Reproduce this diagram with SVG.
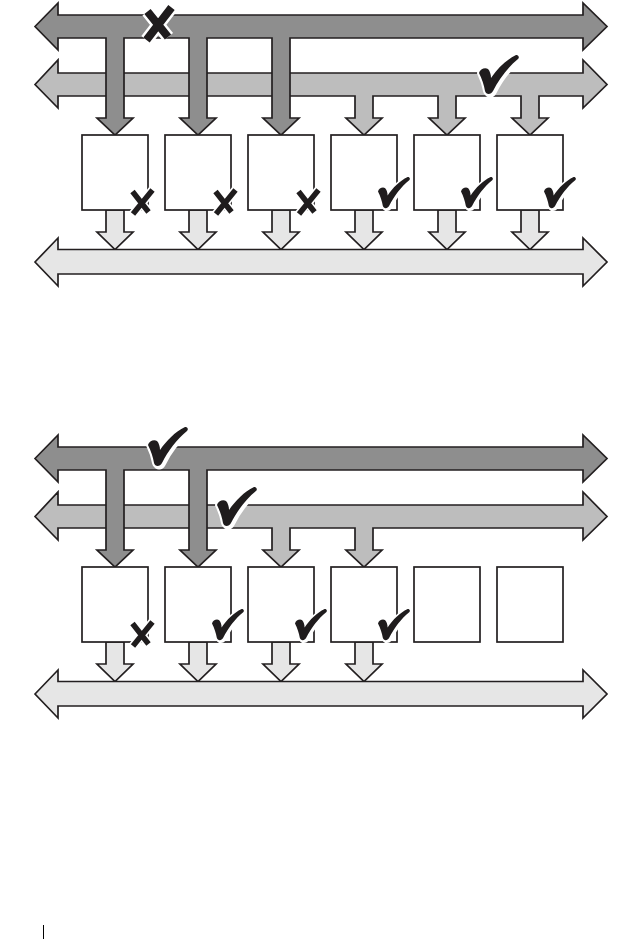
<svg xmlns="http://www.w3.org/2000/svg" xmlns:xlink="http://www.w3.org/1999/xlink" width="641" height="939" viewBox="0 0 641 939">
<style>
.ln{stroke:#231f20;stroke-width:1.7;stroke-linejoin:miter}
.dark{fill:#8e8e8e}
.mid{fill:#bdbdbd}
.light{fill:#e6e6e6}
.box{fill:#fff}
.halo{fill:#fff;stroke:#fff;stroke-width:4;stroke-linejoin:round}
.ink{fill:#1f1c1d}
.xh{stroke:#fff;fill:none;stroke-linecap:butt}
.xk{stroke:#1f1c1d;fill:none;stroke-linecap:butt}
</style>
<defs>
<path id="chk" d="M0,18 C1,14 6,12 9,14 C11,16 12,20 12,23 C19,13 27,5 37,0 C39,-0.5 41,2 39,4 C29,12 20,24 14,36 C12,40 7,40 6,36 C5,30 3,24 0,18 Z"/>
<g id="check"><use xlink:href="#chk" class="halo" transform="translate(1.5,1.5)"/><use xlink:href="#chk" class="halo"/><use xlink:href="#chk" class="ink"/></g>
<g id="xs">
<path class="xh" stroke-width="9" d="M-15.5,-18.5 L0.5,2 M4.5,-20 L-15,4"/>
<path class="xk" stroke-width="5.5" d="M-15.5,-18.5 L0.5,2 M4.5,-20 L-15,4"/>
</g>
<path id="down" d="M-9,0 L9,0 L9,22 L18,22 L0,39.5 L-18,22 L-9,22 Z"/>
</defs>

<!-- ===== Top diagram ===== -->
<g id="top-diagram">
<g id="connectors-top">
<path id="bus-mid-top" class="ln mid" d="M35,84.5 L58,60 L58,73 L583,73 L583,60 L607,84.5 L583,108 L583,96 L539,96 L539,118 L548,118 L530,135 L512,118 L521,118 L521,96 L456,96 L456,118 L465,118 L447,135 L429,118 L438,118 L438,96 L373,96 L373,118 L382,118 L364,135 L346,118 L355,118 L355,96 L58,96 L58,108 Z"/>
<path id="bus-dark-top" class="ln dark" d="M35,26.5 L58,3 L58,15 L583,15 L583,3 L607,26.5 L583,50 L583,38 L290,38 L290,118 L299,118 L281,135 L263,118 L272,118 L272,38 L207,38 L207,118 L216,118 L198,135 L180,118 L189,118 L189,38 L124,38 L124,118 L133,118 L115,135 L97,118 L106,118 L106,38 L58,38 L58,50 Z"/>
<g class="ln light">
<use xlink:href="#down" x="115" y="210"/>
<use xlink:href="#down" x="198" y="210"/>
<use xlink:href="#down" x="281" y="210"/>
<use xlink:href="#down" x="364" y="210"/>
<use xlink:href="#down" x="447" y="210"/>
<use xlink:href="#down" x="530" y="210"/>
</g>
<path id="bus-light-top" class="ln light" d="M35,262 L58,238 L58,249.5 L583,249.5 L583,238 L607,262 L583,286 L583,274 L58,274 L58,286 Z"/>
</g>
<g id="t-box1"><rect class="ln box" x="82" y="135" width="66" height="75"/><use xlink:href="#xs" transform="translate(148,210)"/></g>
<g id="t-box2"><rect class="ln box" x="165" y="135" width="66" height="75"/><use xlink:href="#xs" transform="translate(231,210)"/></g>
<g id="t-box3"><rect class="ln box" x="248" y="135" width="66" height="75"/><use xlink:href="#xs" transform="translate(314,210)"/></g>
<g id="t-box4"><rect class="ln box" x="331" y="135" width="66" height="75"/><use xlink:href="#check" transform="translate(378,177) scale(0.8)"/></g>
<g id="t-box5"><rect class="ln box" x="414" y="135" width="66" height="75"/><use xlink:href="#check" transform="translate(461,177) scale(0.8)"/></g>
<g id="t-box6"><rect class="ln box" x="497" y="135" width="66" height="75"/><use xlink:href="#check" transform="translate(544,177) scale(0.8)"/></g>
<g id="t-bigx">
<path class="xh" stroke-width="13" d="M147.5,11.5 L168,37 M171.5,7.5 L146.5,40"/>
<path class="xk" stroke-width="8" d="M147.5,11.5 L168,37 M171.5,7.5 L146.5,40"/>
</g>
<g id="t-bigcheck"><use xlink:href="#check" transform="translate(479,55)"/></g>
</g>

<!-- ===== Bottom diagram ===== -->
<g id="bottom-diagram" transform="translate(0,432)">
<g id="connectors-bottom">
<path id="bus-mid-bot" class="ln mid" d="M35,84.5 L58,60 L58,73 L583,73 L583,60 L607,84.5 L583,108 L583,96 L373,96 L373,118 L382,118 L364,135 L346,118 L355,118 L355,96 L290,96 L290,118 L299,118 L281,135 L263,118 L272,118 L272,96 L58,96 L58,108 Z"/>
<path id="bus-dark-bot" class="ln dark" d="M35,26.5 L58,3 L58,15 L583,15 L583,3 L607,26.5 L583,50 L583,38 L207,38 L207,118 L216,118 L198,135 L180,118 L189,118 L189,38 L124,38 L124,118 L133,118 L115,135 L97,118 L106,118 L106,38 L58,38 L58,50 Z"/>
<g class="ln light">
<use xlink:href="#down" x="115" y="210"/>
<use xlink:href="#down" x="198" y="210"/>
<use xlink:href="#down" x="281" y="210"/>
<use xlink:href="#down" x="364" y="210"/>
</g>
<path id="bus-light-bot" class="ln light" d="M35,262 L58,238 L58,249.5 L583,249.5 L583,238 L607,262 L583,286 L583,274 L58,274 L58,286 Z"/>
</g>
<g id="b-box1"><rect class="ln box" x="82" y="135" width="66" height="75"/><use xlink:href="#xs" transform="translate(148,210)"/></g>
<g id="b-box2"><rect class="ln box" x="165" y="135" width="66" height="75"/><use xlink:href="#check" transform="translate(212,177) scale(0.8)"/></g>
<g id="b-box3"><rect class="ln box" x="248" y="135" width="66" height="75"/><use xlink:href="#check" transform="translate(295,177) scale(0.8)"/></g>
<g id="b-box4"><rect class="ln box" x="331" y="135" width="66" height="75"/><use xlink:href="#check" transform="translate(378,177) scale(0.8)"/></g>
<g id="b-box5"><rect class="ln box" x="414" y="135" width="66" height="75"/></g>
<g id="b-box6"><rect class="ln box" x="497" y="135" width="66" height="75"/></g>
<g id="b-bigcheck1"><use xlink:href="#check" transform="translate(148,-5)"/></g>
<g id="b-bigcheck2"><use xlink:href="#check" transform="translate(217,55)"/></g>
</g>

<line x1="43.5" y1="925" x2="43.5" y2="939" stroke="#000" stroke-width="1"/>
</svg>
